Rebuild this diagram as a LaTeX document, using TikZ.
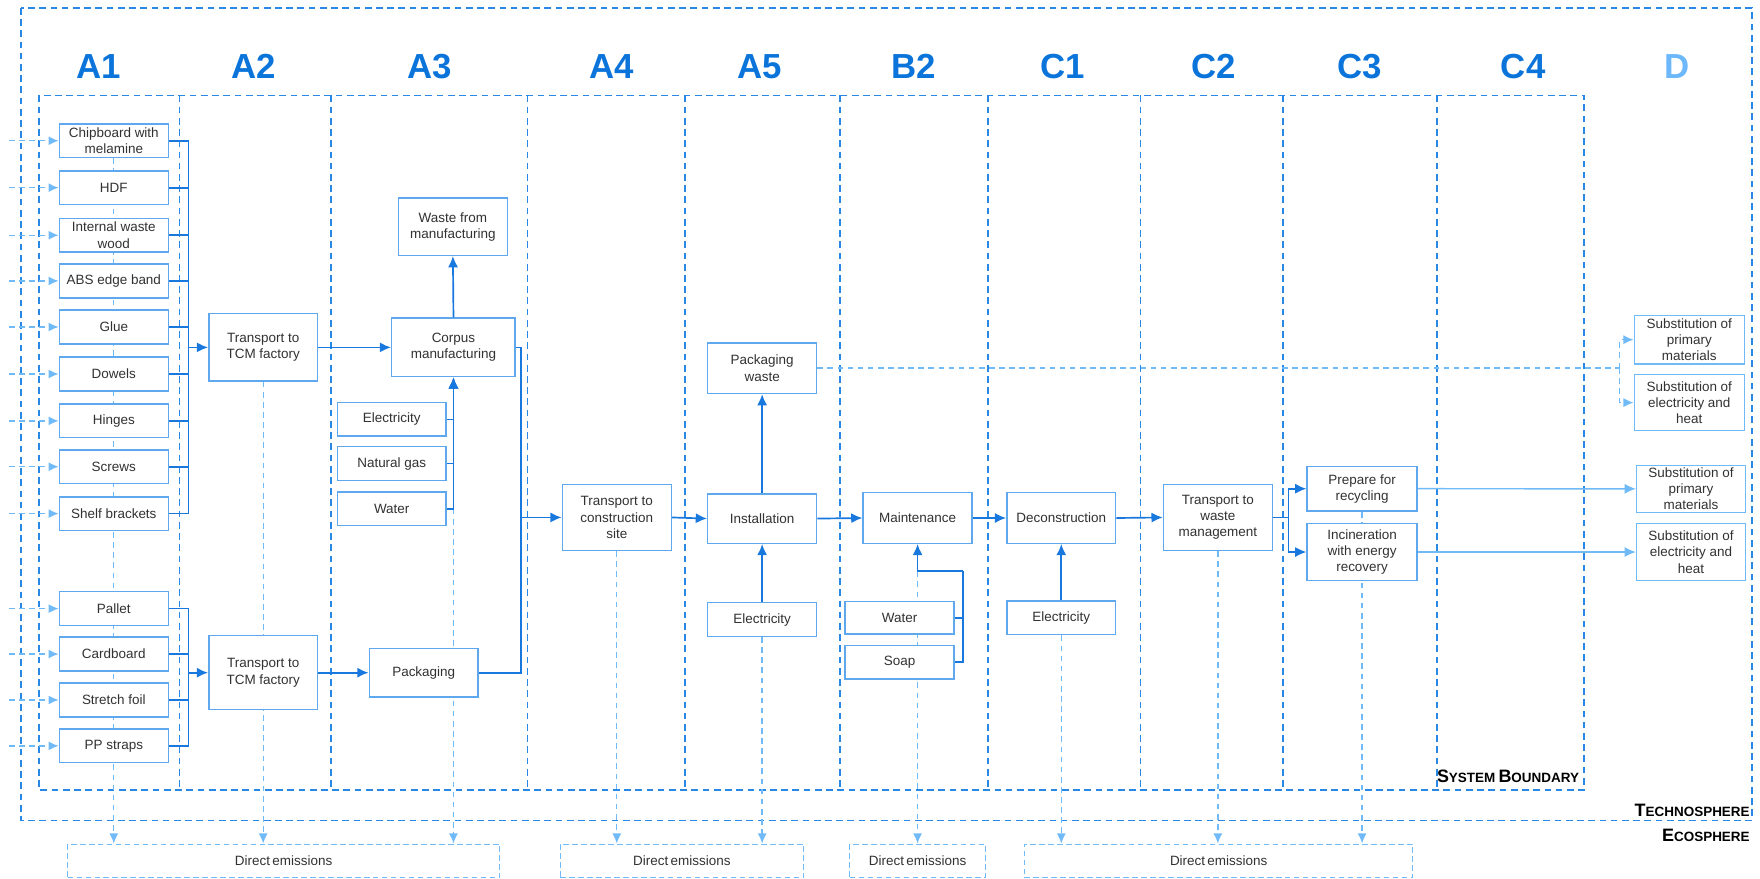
\documentclass[tikz,border=0pt]{standalone}
\usepackage{fontspec}
\setmainfont{Liberation Sans}
\usepackage{tikz}
\usetikzlibrary{arrows.meta, backgrounds}
\definecolor{hdr}{RGB}{10, 116, 218}
\definecolor{hdrd}{RGB}{108, 184, 250}
\definecolor{bnd}{RGB}{40, 136, 228}
\definecolor{flow}{RGB}{24, 120, 222}
\definecolor{boxc}{RGB}{96, 168, 238}
\definecolor{lite}{RGB}{112, 186, 248}
\definecolor{txt}{RGB}{50, 50, 50}

\newcommand{\fakesc}[2]{{\fontsize{16}{16}\selectfont #1}{\fontsize{12}{12}\selectfont #2}}

\begin{document}
\begin{tikzpicture}[
   x=1pt, y=-1pt,
   procbox/.style={rectangle, draw=boxc, fill=white, line width=1.3, text=txt, align=center,
                   inner sep=1, minimum width=97, minimum height=30,
                   font=\fontsize{12}{14.5}\selectfont},
   dbox/.style={procbox, draw=lite},
   emisbox/.style={rectangle, draw=lite, line width=1, dash pattern=on 5pt off 3pt, text=txt,
                   inner sep=1, minimum height=30, font=\fontsize{12}{14.5}\selectfont},
   stage/.style={font=\fontsize{31}{31}\selectfont\bfseries, text=hdr, inner sep=0, anchor=base},
   sphere/.style={font=\bfseries, text=black, anchor=base east, inner sep=0},
   bound/.style={draw=bnd, line width=1.6, dash pattern=on 6pt off 4pt},
   flowline/.style={draw=flow, line width=1.5},
   flowarr/.style={flowline, -{Latex[length=10pt, width=9pt]}},
   emisline/.style={draw=lite, line width=1.2, dash pattern=on 5pt off 4pt},
   emis/.style={emisline, -{Latex[length=9pt, width=8pt]}},
   credit/.style={draw=lite, line width=1.3, -{Latex[length=10pt, width=9pt]}}
  ]

  \useasboundingbox (0, 0) rectangle (1568, 783);

  % Stage headers
  \foreach \s/\x in {A1/88, A2/226, A3/383, A4/545, A5/677, B2/814, C1/947, C2/1081, C3/1211, C4/1357} {
    \node[stage] (h\s) at (\x, 69.5) {\s};
  }
  \node[stage, text=hdrd] (hD) at (1494, 69.5) {D};

  \node[sphere] (sysb) at (1407, 697) {\fakesc{S}{YSTEM} \fakesc{B}{OUNDARY}};
  \node[sphere] (tech) at (1559, 727) {\fakesc{T}{ECHNOSPHERE}};
  \node[sphere] (eco) at (1559, 750) {\fakesc{E}{COSPHERE}};

  % A1 materials
  \foreach \n/\y/\t in {chip/125.4/{Chipboard with\\melamine}, hdf/167.2/HDF,
                        iww/209.6/{Internal waste\\wood}, abs/250.3/{ABS edge band},
                        glue/291.3/Glue, dow/333.2/Dowels, hin/375/Hinges,
                        scr/415.8/Screws, shb/457.6/{Shelf brackets},
                        pal/542.2/Pallet, card/582.7/Cardboard,
                        foil/623.6/{Stretch foil}, pps/664.5/{PP straps}} {
    \node (\n) at (101.4, \y) [procbox] {\t};
    \coordinate (in\n) at (8, \y);
    \draw[emis] (in\n) -- (\n.west);
  }

  % A2
  \node (tr1) at (234.5, 309.5) [procbox, minimum height=60] {Transport to\\TCM factory};
  \node (tr2) at (234.5, 599.3) [procbox, minimum height=66] {Transport to\\TCM factory};
  \coordinate (busA) at (168, 309.5);
  \coordinate (busB) at (168, 599.3);
  \foreach \n in {chip, hdf, iww, abs, glue, dow, hin, scr, shb} {
    \draw[flowline] (\n.east) -| (busA);
  }
  \foreach \n in {pal, card, foil, pps} {
    \draw[flowline] (\n.east) -| (busB);
  }
  \draw[flowarr] (busA) -- (tr1.west);
  \draw[flowarr] (busB) -- (tr2.west);

  % A3
  \node (waste) at (403.5, 202) [procbox, minimum height=51] {Waste from\\manufacturing};
  \node (corpus) at (404, 309.5) [procbox, minimum width=110, minimum height=52] {Corpus\\manufacturing};
  \node (elec3) at (349, 373.6) [procbox] {Electricity};
  \node (gas) at (349, 413) [procbox] {Natural gas};
  \node (water3) at (349, 453.3) [procbox] {Water};
  \node (pack) at (377.5, 599.3) [procbox, minimum height=43] {Packaging};

  \draw[flowarr] (tr1.east) -- (corpus.west);
  \draw[flowarr] (tr2.east) -- (pack.west);
  \draw[flowarr] (corpus.north) -- (waste.south);
  \foreach \n in {elec3, gas, water3} {
    \draw[flowarr] (\n.east) -| (corpus.south);
  }

  % A4 - A5
  \node (trc) at (549.5, 461) [procbox, minimum height=59] {Transport to\\construction\\site};
  \node (pw) at (679, 328) [procbox, minimum height=45] {Packaging\\waste};
  \node (inst) at (679, 462) [procbox, minimum height=44] {Installation};
  \node (el5) at (679, 552) [procbox] {Electricity};

  \coordinate (joinA) at (464, 461);
  \draw[flowline] (corpus.east) -| (joinA);
  \draw[flowline] (pack.east) -| (joinA);
  \draw[flowarr] (joinA) -- (trc.west);
  \draw[flowarr] (trc.east) -- (inst.west);
  \draw[flowarr] (inst.north) -- (pw.south);
  \draw[flowarr] (el5.north) -- (inst.south);

  % B2
  \node (maint) at (817.5, 461.5) [procbox, minimum height=45] {Maintenance};
  \node (mwat) at (801.5, 550.5) [procbox, minimum height=29] {Water};
  \node (soap) at (801.5, 590) [procbox] {Soap};
  \coordinate (mj) at (858, 509);
  \draw[flowline] (mwat.east) -| (mj);
  \draw[flowline] (soap.east) -| (mj);
  \draw[flowarr] (mj) -| (maint.south);
  \draw[flowarr] (inst.east) -- (maint.west);

  % C1 - C3
  \node (dec) at (945.5, 461.5) [procbox, minimum height=45] {Deconstruction};
  \node (el6) at (945.5, 550.5) [procbox] {Electricity};
  \node (trw) at (1085, 461) [procbox, minimum height=59] {Transport to\\waste\\management};
  \node (prep) at (1213.5, 435.4) [procbox, minimum width=98, minimum height=40] {Prepare for\\recycling};
  \node (inc) at (1213.5, 491.8) [procbox, minimum width=98, minimum height=51] {Incineration\\with energy\\recovery};

  \draw[flowarr] (maint.east) -- (dec.west);
  \draw[flowarr] (el6.north) -- (dec.south);
  \draw[flowarr] (dec.east) -- (trw.west);
  \coordinate (busC) at (1148, 461);
  \draw[flowline] (trw.east) -- (busC);
  \draw[flowarr] (busC) |- (prep.west);
  \draw[flowarr] (busC) |- (inc.west);

  % D
  \node (sp1) at (1505, 302.6) [dbox, minimum width=98, minimum height=43] {Substitution of\\primary\\materials};
  \node (se1) at (1505, 358.7) [dbox, minimum width=98, minimum height=50] {Substitution of\\electricity and\\heat};
  \node (sp2) at (1506.5, 435.5) [dbox, minimum height=42] {Substitution of\\primary\\materials};
  \node (se2) at (1506.5, 491.8) [dbox, minimum height=51] {Substitution of\\electricity and\\heat};

  \draw[credit] (prep.east) -- (sp2.west);
  \draw[credit] (inc.east) -- (se2.west);
  \coordinate (pwj) at (1443, 328);
  \draw[emisline] (pw.east) -- (pwj);
  \draw[emis] (pwj) |- (sp1.west);
  \draw[emis] (pwj) |- (se1.west);

  % Emissions
  \node (de1) at (252.7, 767) [emisbox, minimum width=385] {Direct\,emissions};
  \node (de2) at (607.5, 767) [emisbox, minimum width=217] {Direct\,emissions};
  \node (de3) at (817.5, 767) [emisbox, minimum width=121] {Direct\,emissions};
  \node (de4) at (1085.7, 767) [emisbox, minimum width=346] {Direct\,emissions};

  \begin{scope}[on background layer]
    \draw[bound] (19, 7) rectangle (1561, 731);
    \draw[bound] (35, 85) rectangle (1411, 704);
    \foreach \x in {160, 295, 470, 610, 748, 880, 1016, 1143, 1280} {
      \draw[bound] (\x, 85) -- (\x, 704);
    }

    \draw[emis] (chip.south) -- (chip.south |- de1.north);
    \draw[emis] (tr1.south) -- (tr1.south |- de1.north);
    \draw[emis] (water3.east -| corpus.south) -- (corpus.south |- de1.north);
    \draw[emis] (trc.south) -- (trc.south |- de2.north);
    \draw[emis] (el5.south) -- (el5.south |- de2.north);
    \draw[emis] (mj -| maint.south) -- (maint.south |- de3.north);
    \draw[emis] (el6.south) -- (el6.south |- de4.north);
    \draw[emis] (trw.south) -- (trw.south |- de4.north);
    \draw[emis] (prep.south) -- (prep.south |- de4.north);
  \end{scope}

\end{tikzpicture}
\end{document}
